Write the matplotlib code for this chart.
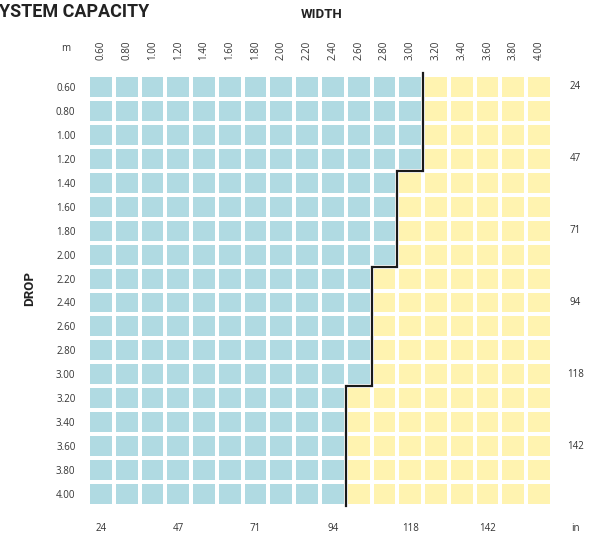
import matplotlib.pyplot as plt
import numpy as np
from matplotlib.colors import ListedColormap

widths = [0.60, 0.80, 1.00, 1.20, 1.40, 1.60, 1.80, 2.00, 2.20, 2.40,
          2.60, 2.80, 3.00, 3.20, 3.40, 3.60, 3.80, 4.00]
drops = [0.60, 0.80, 1.00, 1.20, 1.40, 1.60, 1.80, 2.00, 2.20, 2.40,
         2.60, 2.80, 3.00, 3.20, 3.40, 3.60, 3.80, 4.00]
# largest width allowed for each drop
max_width = [3.00, 3.00, 3.00, 3.00, 2.80, 2.80, 2.80, 2.80, 2.60, 2.60,
             2.60, 2.60, 2.60, 2.40, 2.40, 2.40, 2.40, 2.40]
inch_labels = ['24', '47', '71', '94', '118', '142']
inch_pos = [0.60, 1.20, 1.80, 2.40, 3.00, 3.60]

blue = '#b0dae2'
yellow = '#fff3b0'
txt = '#333333'
fs = 7

W, H = 597, 534
fig = plt.figure(figsize=(W / 100, H / 100), dpi=100)
ax = fig.add_axes([88 / W, (H - 506) / H, 464 / W, 431 / H])

wa = np.array(widths)
ok = wa[None, :] <= np.array(max_width)[:, None] + 1e-9
ax.pcolormesh(np.arange(len(widths) + 1), np.arange(len(drops) + 1), ok.astype(int),
              cmap=ListedColormap([yellow, blue]), edgecolors='white', linewidth=1.5)
ax.set_xlim(0, len(widths))
ax.set_ylim(len(drops), 0)

# step boundary line
xs, ys = [], []
for i, mw in enumerate(max_width):
    c = widths.index(mw) + 1
    xs += [c, c]
    ys += [i, i + 1]
ys[0] = -0.1
ax.plot(xs, ys, color='#1a1a1a', lw=1.6, solid_joinstyle='miter', clip_on=False)

for s in ax.spines.values():
    s.set_visible(False)
ax.xaxis.tick_top()
ax.set_xticks(np.arange(len(widths)) + 0.5)
ax.set_xticklabels(['%.2f' % w for w in widths], rotation=90, fontsize=fs,
                   color=txt, family='Open Sans')
ax.set_yticks(np.arange(len(drops)) + 0.5)
ax.set_yticklabels(['%.2f' % d for d in drops], fontsize=fs, color=txt,
                   family='Open Sans')
ax.tick_params(axis='x', length=0, pad=11)
ax.tick_params(axis='y', length=0, pad=9)

for lab, v in zip(inch_labels, inch_pos):
    k = widths.index(v) + 0.5
    ax.text(k, 18.96, lab, ha='center', va='center', fontsize=fs, color=txt,
            family='Open Sans')
    ax.text(18.9, k, lab, ha='center', va='center', fontsize=fs, color=txt,
            family='Open Sans')
ax.text(18.9, 18.96, 'in', ha='center', va='center', fontsize=fs, color=txt,
        family='Open Sans')
ax.text(-0.85, -1.09, 'm', ha='center', va='center', fontsize=fs, color=txt,
        family='Open Sans')

fig.text(-12 / W, 1 - 12 / H, 'SYSTEM CAPACITY', ha='left', va='center',
         fontsize=13, fontweight='bold', color='#222222', family='Roboto')
fig.text(322 / W, 1 - 14 / H, 'WIDTH', ha='center', va='center',
         fontsize=9.5, fontweight='bold', color='#222222', family='Roboto')
fig.text(30 / W, 1 - 288 / H, 'DROP', ha='center', va='center', rotation=90,
         fontsize=9.5, fontweight='bold', color='#222222', family='Roboto')

fig.savefig('out.png', dpi=100)
